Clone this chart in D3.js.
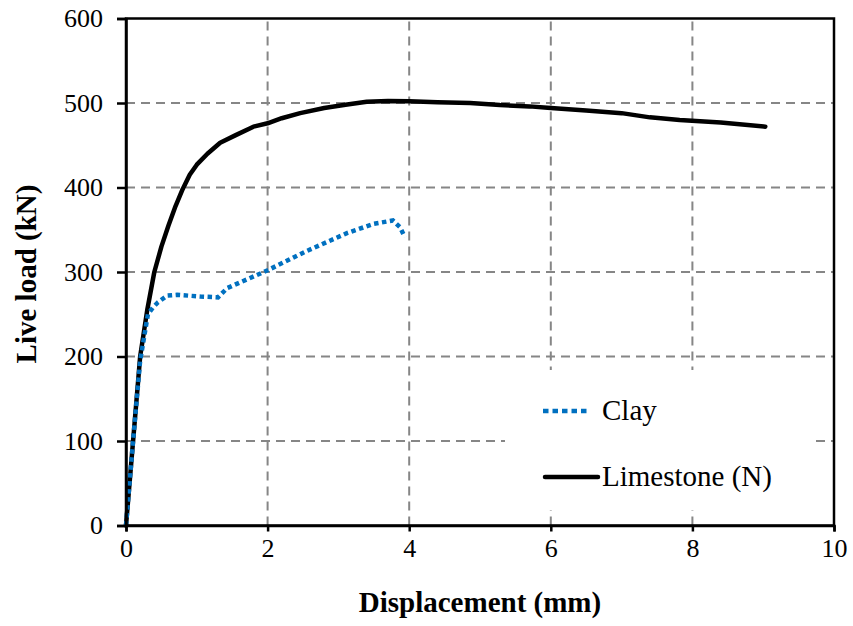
<!DOCTYPE html>
<html>
<head>
<meta charset="utf-8">
<script src="https://cdn.jsdelivr.net/npm/d3@7"></script>
<style>
  body { margin: 0; background: #fff; }
  text { font-family: "Liberation Serif", "Times New Roman", serif; fill: #000; }
</style>
</head>
<body>
<script>
var w = 853,
    h = 626;

// limestone (N) curve
var limeX = [0, 0.05, 0.1, 0.2, 0.3, 0.4, 0.5, 0.6, 0.7, 0.8, 0.9, 1.0, 1.15, 1.33, 1.55, 1.8, 2.0, 2.2, 2.46, 2.8, 3.1, 3.4, 3.7, 4.0, 4.4, 4.86, 5.28, 5.7, 6.0, 6.5, 7.0, 7.4, 7.82, 8.4, 9.03];
var limeY = [0, 50, 100, 200, 255, 300, 330, 355, 378, 398, 415, 427, 440, 453, 462, 472, 476, 482, 488, 494, 498, 501.5, 502.5, 502, 501, 500, 497.5, 496, 494, 491, 488, 483, 480, 477, 472];

// clay curve
var clayX = [0, 0.05, 0.1, 0.2, 0.31, 0.38, 0.45, 0.58, 0.72, 1.05, 1.3, 1.43, 2.0, 2.53, 3.12, 3.5, 3.77, 3.87, 3.94];
var clayY = [0, 50, 100, 195, 250, 258, 264, 272, 273, 271, 270, 281, 302, 324, 346, 357, 361, 353, 341];

var xTicks = [0, 2, 4, 6, 8, 10];
var yTicks = [0, 100, 200, 300, 400, 500, 600];

var seriesNames = ["Clay", "Limestone (N)"];

var margin = {left: 126, right: 19, top: 18.5, bottom: 100.5};

var svg = d3.select("body")
    .append("svg")
    .attr("width", w)
    .attr("height", h);

var x = d3.scaleLinear().domain([0, 10]).range([margin.left, w - margin.right]);
var y = d3.scaleLinear().domain([0, 600]).range([h - margin.bottom, margin.top]);

// grid
var grid = svg.append("g");
grid.selectAll("line.vg")
    .data(xTicks.slice(1, -1))
    .enter().append("line")
    .attr("x1", function (d) { return x(d); })
    .attr("x2", function (d) { return x(d); })
    .attr("y1", y(0)).attr("y2", y(600));
grid.selectAll("line.hg")
    .data(yTicks.slice(1, -1))
    .enter().append("line")
    .attr("y1", function (d) { return y(d); })
    .attr("y2", function (d) { return y(d); })
    .attr("x1", x(0)).attr("x2", x(10));
grid.selectAll("line")
    .attr("stroke", "#868686")
    .attr("stroke-width", 2)
    .attr("stroke-dasharray", "9,6");

// legend background hides the grid behind it
svg.append("rect")
    .attr("x", 505).attr("y", 370)
    .attr("width", 308).attr("height", 140)
    .attr("fill", "#fff");

// lines
function pts(xs, ys) {
    return xs.map(function (d, i) { return [d, ys[i]]; });
}
var line = d3.line()
    .x(function (d) { return x(d[0]); })
    .y(function (d) { return y(d[1]); });

svg.append("path")
    .datum(pts(limeX, limeY))
    .attr("d", line)
    .attr("fill", "none")
    .attr("stroke", "#000")
    .attr("stroke-width", 4.5)
    .attr("stroke-linejoin", "round")
    .attr("stroke-linecap", "round");

svg.append("path")
    .datum(pts(clayX, clayY))
    .attr("d", line)
    .attr("fill", "none")
    .attr("stroke", "#0070C0")
    .attr("stroke-width", 4.5)
    .attr("stroke-dasharray", "4.5,3.5");

// plot box
svg.append("rect")
    .attr("x", x(0)).attr("y", y(600))
    .attr("width", x(10) - x(0)).attr("height", y(0) - y(600))
    .attr("fill", "none")
    .attr("stroke", "#000")
    .attr("stroke-width", 2.5);

// axes
var xAxis = svg.append("g")
    .attr("transform", "translate(0," + y(0) + ")")
    .call(d3.axisBottom(x).tickValues(xTicks).tickSize(6).tickPadding(7));
var yAxis = svg.append("g")
    .attr("transform", "translate(" + x(0) + ",0)")
    .call(d3.axisLeft(y).tickValues(yTicks).tickSize(9).tickPadding(14));

[xAxis, yAxis].forEach(function (a) {
    a.select(".domain").attr("stroke", "#000").attr("stroke-width", 2.5);
    a.selectAll(".tick line").attr("stroke", "#000").attr("stroke-width", 2.5);
    a.selectAll(".tick text")
        .style("font-family", "'Liberation Serif', serif")
        .style("font-size", "26px")
        .attr("fill", "#000");
});

// axis titles
svg.append("text")
    .attr("x", (x(0) + x(10)) / 2)
    .attr("y", 612)
    .attr("text-anchor", "middle")
    .style("font-size", "29px")
    .style("font-weight", "bold")
    .text("Displacement (mm)");

svg.append("text")
    .attr("transform", "translate(36," + (y(300) + 2) + ") rotate(-90)")
    .attr("text-anchor", "middle")
    .style("font-size", "29px")
    .style("font-weight", "bold")
    .text("Live load (kN)");

// legend
var leg = svg.append("g");
leg.append("line")
    .attr("x1", 543).attr("x2", 590).attr("y1", 411).attr("y2", 411)
    .attr("stroke", "#0070C0").attr("stroke-width", 4.5)
    .attr("stroke-dasharray", "5.5,4");
leg.append("line")
    .attr("x1", 545).attr("x2", 598).attr("y1", 477).attr("y2", 477)
    .attr("stroke", "#000").attr("stroke-width", 4.5)
    .attr("stroke-linecap", "round");
leg.selectAll("text")
    .data(seriesNames)
    .enter().append("text")
    .attr("x", 602)
    .attr("y", function (d, i) { return 420 + i * 66; })
    .style("font-size", "29px")
    .text(function (d) { return d; });
</script>
</body>
</html>
